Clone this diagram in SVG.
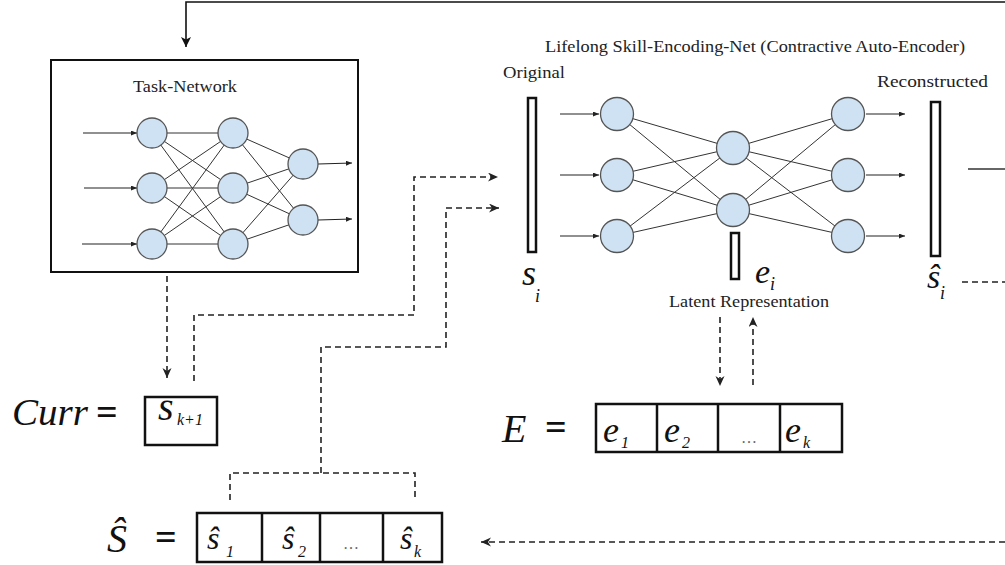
<svg xmlns="http://www.w3.org/2000/svg" width="1005" height="565" viewBox="0 0 1005 565">
<defs>
<marker id="tiny" markerUnits="userSpaceOnUse" markerWidth="7" markerHeight="6" refX="6" refY="2.5" orient="auto"><path d="M0,0 L6,2.5 L0,5 z" fill="#222"/></marker>
<marker id="dash" markerUnits="userSpaceOnUse" markerWidth="11" markerHeight="10" refX="10" refY="4.5" orient="auto"><path d="M0,0 L10,4.5 L0,9 L3,4.5 z" fill="#222"/></marker>
<marker id="big" markerUnits="userSpaceOnUse" markerWidth="11" markerHeight="12" refX="10" refY="5" orient="auto"><path d="M0,0 L10,5 L0,10 L2.5,5 z" fill="#111"/></marker>
<style>
.lbl{font-family:"Liberation Serif","Times New Roman",serif;fill:#222}
.m{font-family:"Liberation Serif","Times New Roman",serif;font-style:italic;fill:#111}
.eq{font-family:"Liberation Serif","Times New Roman",serif;font-weight:bold;fill:#111}
.dots{font-family:"Liberation Serif","Times New Roman",serif;fill:#666;font-size:16px}
.node{fill:#cfe2f3;stroke:#555;stroke-width:1.3}
.edge{stroke:#333;stroke-width:1;fill:none}
.in{stroke:#222;stroke-width:1.1;fill:none;marker-end:url(#tiny)}
.bar{fill:#fff;stroke:#111;stroke-width:2.5}
.box{fill:#fff;stroke:#111;stroke-width:2.5}
.div{stroke:#111;stroke-width:2.5}
.dl{stroke:#222;stroke-width:1.6;stroke-dasharray:6 4;fill:none}
</style>
</defs>

<g id="task-network">
<rect x="51" y="60" width="307" height="212" fill="#fff" stroke="#111" stroke-width="2"/>
<text class="lbl" x="185" y="92" font-size="17" text-anchor="middle" textLength="104" lengthAdjust="spacingAndGlyphs">Task-Network</text>
<g>
<line class="edge" x1="152" y1="133" x2="233" y2="133"/><line class="edge" x1="152" y1="133" x2="233" y2="188"/><line class="edge" x1="152" y1="133" x2="233" y2="244"/>
<line class="edge" x1="152" y1="188" x2="233" y2="133"/><line class="edge" x1="152" y1="188" x2="233" y2="188"/><line class="edge" x1="152" y1="188" x2="233" y2="244"/>
<line class="edge" x1="152" y1="244" x2="233" y2="133"/><line class="edge" x1="152" y1="244" x2="233" y2="188"/><line class="edge" x1="152" y1="244" x2="233" y2="244"/>
<line class="edge" x1="233" y1="133" x2="303" y2="164"/><line class="edge" x1="233" y1="133" x2="303" y2="220"/>
<line class="edge" x1="233" y1="188" x2="303" y2="164"/><line class="edge" x1="233" y1="188" x2="303" y2="220"/>
<line class="edge" x1="233" y1="244" x2="303" y2="164"/><line class="edge" x1="233" y1="244" x2="303" y2="220"/>
</g>
<line class="in" x1="83" y1="133" x2="137" y2="133"/>
<line class="in" x1="84" y1="188" x2="137" y2="188"/>
<line class="in" x1="82" y1="244" x2="137" y2="244"/>
<line class="in" x1="318" y1="164" x2="352" y2="163"/>
<line class="in" x1="318" y1="220" x2="352" y2="219"/>
<circle class="node" cx="152" cy="133" r="15"/><circle class="node" cx="152" cy="188" r="15"/><circle class="node" cx="152" cy="244" r="15"/>
<circle class="node" cx="233" cy="133" r="15"/><circle class="node" cx="233" cy="188" r="15"/><circle class="node" cx="233" cy="244" r="15"/>
<circle class="node" cx="303" cy="164" r="15"/><circle class="node" cx="303" cy="220" r="15"/>
</g>

<g id="encoder">
<text class="lbl" x="755" y="52" font-size="17" text-anchor="middle" textLength="420" lengthAdjust="spacingAndGlyphs">Lifelong Skill-Encoding-Net (Contractive Auto-Encoder)</text>
<text class="lbl" x="503" y="78" font-size="17" textLength="62" lengthAdjust="spacingAndGlyphs">Original</text>
<text class="lbl" x="877" y="87" font-size="17" textLength="111" lengthAdjust="spacingAndGlyphs">Reconstructed</text>
<g>
<line class="edge" x1="617" y1="114" x2="733" y2="148"/><line class="edge" x1="617" y1="114" x2="733" y2="210"/>
<line class="edge" x1="617" y1="175" x2="733" y2="148"/><line class="edge" x1="617" y1="175" x2="733" y2="210"/>
<line class="edge" x1="617" y1="236" x2="733" y2="148"/><line class="edge" x1="617" y1="236" x2="733" y2="210"/>
<line class="edge" x1="733" y1="148" x2="848" y2="114"/><line class="edge" x1="733" y1="148" x2="848" y2="175"/><line class="edge" x1="733" y1="148" x2="848" y2="236"/>
<line class="edge" x1="733" y1="210" x2="848" y2="114"/><line class="edge" x1="733" y1="210" x2="848" y2="175"/><line class="edge" x1="733" y1="210" x2="848" y2="236"/>
</g>
<line class="in" x1="560" y1="114" x2="599" y2="114"/>
<line class="in" x1="560" y1="175" x2="599" y2="175"/>
<line class="in" x1="560" y1="236" x2="599" y2="236"/>
<line class="in" x1="866" y1="114" x2="905" y2="114"/>
<line class="in" x1="866" y1="175" x2="905" y2="175"/>
<line class="in" x1="866" y1="236" x2="905" y2="236"/>
<circle class="node" cx="617" cy="114" r="16.5"/><circle class="node" cx="617" cy="175" r="16.5"/><circle class="node" cx="617" cy="236" r="16.5"/>
<circle class="node" cx="733" cy="148" r="16.5"/><circle class="node" cx="733" cy="210" r="16.5"/>
<circle class="node" cx="848" cy="114" r="16.5"/><circle class="node" cx="848" cy="175" r="16.5"/><circle class="node" cx="848" cy="236" r="16.5"/>
</g>

<g id="original-bar">
<rect class="bar" x="528" y="98" width="8" height="154"/>
<text class="m" x="522" y="285" font-size="36">s</text><text class="m" x="535" y="302" font-size="18">i</text>
</g>
<g id="latent-bar">
<rect class="bar" x="731" y="233" width="8" height="46"/>
<text class="m" x="755" y="283" font-size="34">e</text><text class="m" x="770" y="290" font-size="18">i</text>
<text class="lbl" x="749" y="307" font-size="17" text-anchor="middle" textLength="160" lengthAdjust="spacingAndGlyphs">Latent Representation</text>
</g>
<g id="reconstructed-bar">
<rect class="bar" x="931" y="102" width="9" height="154"/>
<text class="m" x="927" y="288" font-size="34">ŝ</text><text class="m" x="940" y="299" font-size="18">i</text>
</g>

<g id="curr">
<text class="m" x="12" y="425" font-size="38" textLength="76" lengthAdjust="spacingAndGlyphs">Curr</text>
<text class="eq" x="96" y="425" font-size="38">=</text>
<rect class="box" x="145" y="397" width="72" height="48"/>
<text class="m" x="158" y="420" font-size="40">s</text><text class="m" x="177" y="425" font-size="16">k+1</text>
</g>

<g id="E">
<text class="m" x="502" y="442" font-size="40">E</text>
<text class="eq" x="545" y="440" font-size="38">=</text>
<rect class="box" x="596" y="404" width="246" height="48"/>
<line class="div" x1="657" y1="404" x2="657" y2="452"/>
<line class="div" x1="718" y1="404" x2="718" y2="452"/>
<line class="div" x1="780" y1="404" x2="780" y2="452"/>
<text class="m" x="603" y="442" font-size="36">e</text><text class="m" x="621" y="448" font-size="16">1</text>
<text class="m" x="664" y="442" font-size="36">e</text><text class="m" x="682" y="448" font-size="16">2</text>
<text class="dots" x="749" y="443" text-anchor="middle">…</text>
<text class="m" x="785" y="442" font-size="36">e</text><text class="m" x="803" y="448" font-size="16">k</text>
</g>

<g id="S-hat">
<text class="m" x="107" y="552" font-size="40">Ŝ</text>
<text class="eq" x="155" y="550" font-size="38">=</text>
<rect class="box" x="197" y="513" width="245" height="49"/>
<line class="div" x1="262" y1="513" x2="262" y2="562"/>
<line class="div" x1="320" y1="513" x2="320" y2="562"/>
<line class="div" x1="383" y1="513" x2="383" y2="562"/>
<text class="m" x="207" y="549" font-size="32">ŝ</text><text class="m" x="226" y="557" font-size="16">1</text>
<text class="m" x="282" y="549" font-size="32">ŝ</text><text class="m" x="298" y="557" font-size="16">2</text>
<text class="dots" x="351" y="549" text-anchor="middle">…</text>
<text class="m" x="400" y="549" font-size="32">ŝ</text><text class="m" x="414" y="557" font-size="16">k</text>
</g>

<g id="connectors">
<path d="M1005,2 H186 V47" fill="none" stroke="#111" stroke-width="1.6" marker-end="url(#big)"/>
<path class="dl" d="M167,276 V378" marker-end="url(#dash)"/>
<path class="dl" d="M194,381 V315 H414 V177 H498" marker-end="url(#dash)"/>
<path class="dl" d="M230,500 V473 H415 V500"/>
<path class="dl" d="M321,473 V347 H446 V208 H499" marker-end="url(#dash)"/>
<path class="dl" d="M720,317 V386" marker-end="url(#dash)"/>
<path class="dl" d="M753,385 V317" marker-end="url(#dash)"/>
<path class="dl" d="M1005,542 H481" marker-end="url(#dash)"/>
<path class="dl" d="M962,282 H1005"/>
<path d="M968,169 H1005" stroke="#333" stroke-width="1.6" fill="none"/>
</g>
</svg>
